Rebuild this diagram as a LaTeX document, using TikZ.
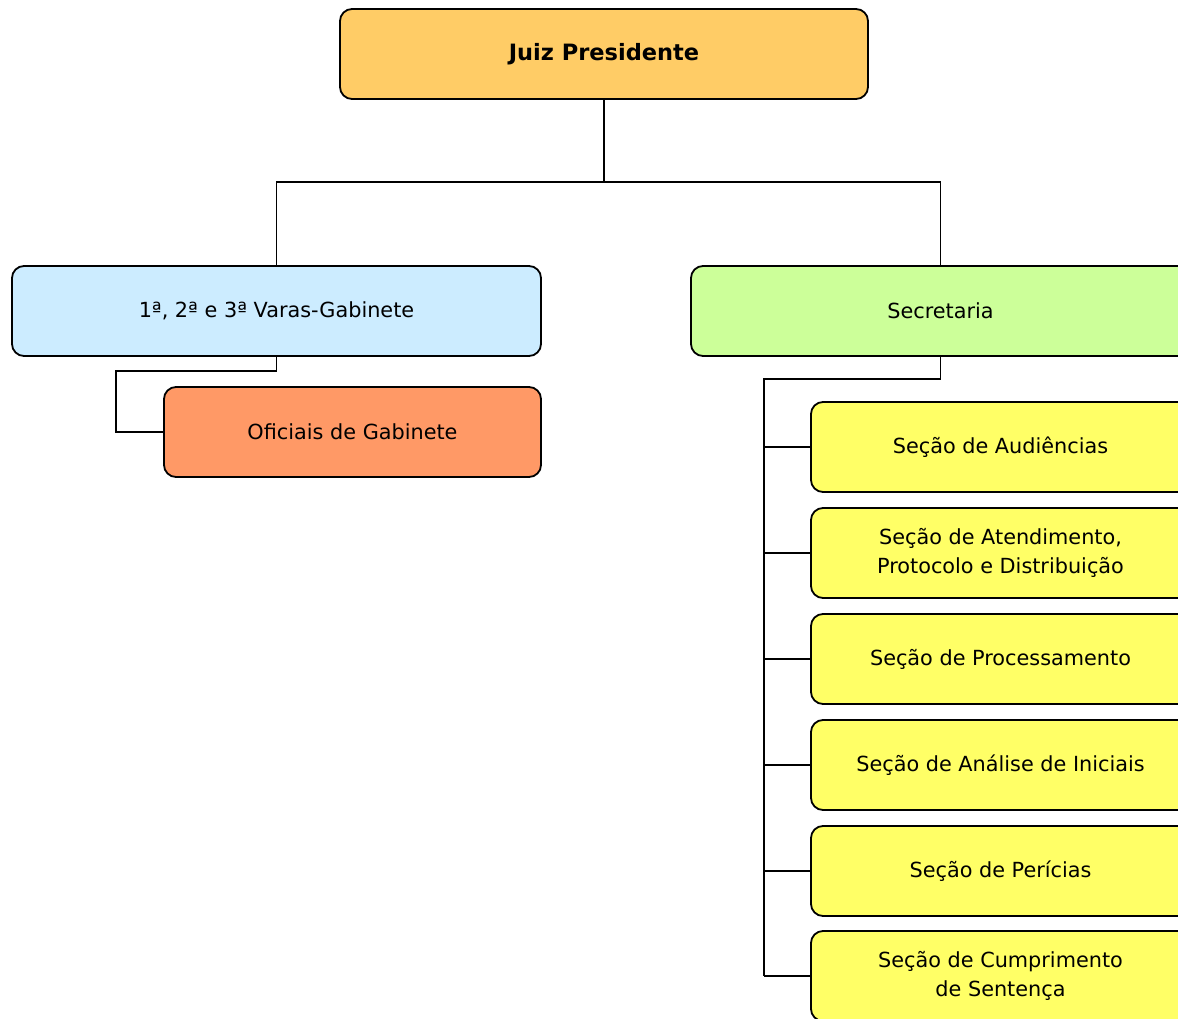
\documentclass[tikz,border=0pt]{standalone}
\usepackage{fontspec}
\setmainfont{DejaVu Sans}
\begin{document}
\begin{tikzpicture}[x=1pt,y=-1pt,
  box/.style={draw=black,line width=1.8pt,rounded corners=12pt,inner sep=0pt,align=center,
    font=\fontsize{20.8}{29}\selectfont},
  wire/.style={draw=black,line width=1.8pt}]
\definecolor{cjuiz}{HTML}{FFCC66}
\definecolor{cvaras}{HTML}{CCECFF}
\definecolor{csec}{HTML}{CCFF99}
\definecolor{cofi}{HTML}{FF9966}
\definecolor{csecao}{HTML}{FFFF66}
\useasboundingbox (0,0) rectangle (1178,1019);
\clip (0,0) rectangle (1178,1019);
\node[box,fill=cjuiz,minimum width=528pt,minimum height=90pt,font=\fontsize{22.5}{29}\selectfont\bfseries] (jp) at (604,54) {Juiz Presidente};
\node[box,fill=cvaras,minimum width=529pt,minimum height=90pt] (varas) at (276.5,311) {1ª, 2ª e 3ª Varas-Gabinete};
\node[box,fill=csec,minimum width=499pt,minimum height=90pt] (sec) at (940.5,311) {Secretaria};
\node[box,fill=cofi,minimum width=377pt,minimum height=90pt] (of) at (352.5,432) {Oficiais de Gabinete};
\foreach \n/\y/\t in {s1/447/{Seção de Audiências},
                      s2/553/{Seção de Atendimento,\\Protocolo e Distribuição},
                      s3/659/{Seção de Processamento},
                      s4/765/{Seção de Análise de Iniciais},
                      s5/871/{Seção de Perícias},
                      s6/976/{Seção de Cumprimento\\de Sentença}}
  \node[box,fill=csecao,minimum width=379pt,minimum height=90pt] (\n) at (1000.5,\y) {\t};
% connectors
\coordinate (hj) at (604,182);
\draw[wire] (jp.south) -- (hj) -| (varas.north);
\draw[wire] (hj) -| (sec.north);
\coordinate (hv) at (116,371);
\draw[wire] (varas.south) |- (hv) |- (of.west);
\coordinate (hs) at (764,379);
\draw[wire] (sec.south) |- (hs) -- (hs |- s6.west);
\foreach \n in {s1,s2,s3,s4,s5,s6}
  \draw[wire] (hs |- \n.west) -- (\n.west);
\end{tikzpicture}
\end{document}
